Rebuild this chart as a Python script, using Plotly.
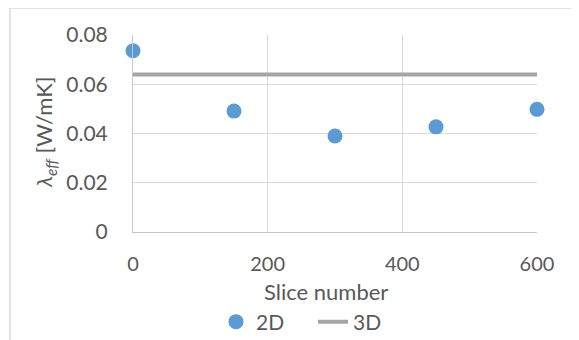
import plotly.graph_objects as go

# Data
slices_2d = [0, 150, 300, 450, 600]
lambda_2d = [0.0736, 0.0491, 0.0390, 0.0427, 0.0498]
slices_3d = [0, 600]
lambda_3d = [0.064, 0.064]
x_ticks = [0, 200, 400, 600]
y_ticks = [0, 0.02, 0.04, 0.06, 0.08]
y_tick_labels = ["0", "0.02", "0.04", "0.06", "0.08"]

FONT = "Lato"
TXT = "#595959"
GRID = "#d9d9d9"

fig = go.Figure()
fig.add_trace(go.Scatter(
    x=slices_2d, y=lambda_2d, mode="markers", name="2D",
    marker=dict(size=15, color="#5b9bd5", line=dict(width=0)),
    cliponaxis=False,
))
fig.add_trace(go.Scatter(
    x=slices_3d, y=lambda_3d, mode="lines", name="3D",
    line=dict(color="#a5a5a5", width=4),
    cliponaxis=False,
))

# page has an 8px body margin; compensate
OFF = 8
W, H = 579 - OFF, 340 - OFF
L, R, T, B = 133 - OFF, 537 - OFF, 35 - OFF, 232 - OFF
pw, ph = R - L, B - T
def px(x):
    return (x - OFF - L) / pw
def py(y):
    return (B - (y - OFF)) / ph

fig.update_layout(
    width=W, height=H,
    margin=dict(l=L, r=W - R, t=T, b=H - B, autoexpand=False),
    paper_bgcolor="white", plot_bgcolor="white",
    font=dict(family=FONT, size=20, color=TXT),
    showlegend=True,
    legend=dict(orientation="h", x=px(216), xanchor="left", y=py(322), yanchor="middle",
                font=dict(size=21, color=TXT), entrywidth=52, entrywidthmode="pixels",
                tracegroupgap=0, bgcolor="rgba(0,0,0,0)"),
    xaxis=dict(range=[0, 600], tickvals=x_ticks, showgrid=True, gridcolor=GRID, gridwidth=1,
               showline=True, linecolor="#c8c8c8", linewidth=1, mirror=False, zeroline=False,
               automargin=False,
               ticks="", ticklabelstandoff=14, tickfont=dict(size=20, color=TXT)),
    yaxis=dict(range=[0, 0.08], tickvals=y_ticks, ticktext=y_tick_labels, showgrid=True,
               gridcolor=GRID, gridwidth=1, showline=True, linecolor="#c8c8c8", linewidth=1,
               zeroline=False, automargin=False,
               ticks="", ticklabelstandoff=20, tickfont=dict(size=21, color=TXT)),
    annotations=[
        dict(text="<i>λ<sub>eff</sub></i> [W/mK]", xref="paper", yref="paper",
             x=px(45), y=py(133), xanchor="center", yanchor="middle", textangle=-90,
             showarrow=False, font=dict(size=22, color=TXT)),
        dict(text="Slice number", xref="paper", yref="paper",
             x=px(326), y=py(291), xanchor="center", yanchor="middle",
             showarrow=False, font=dict(size=22, color=TXT)),
    ],
    shapes=[
        dict(type="line", xref="paper", yref="paper", x0=px(10), x1=px(579), y0=py(8), y1=py(8),
             line=dict(color=GRID, width=1.5)),
        dict(type="line", xref="paper", yref="paper", x0=px(10), x1=px(10), y0=py(8), y1=py(340),
             line=dict(color=GRID, width=1.5)),
    ],
)

fig.write_html("out.html")
